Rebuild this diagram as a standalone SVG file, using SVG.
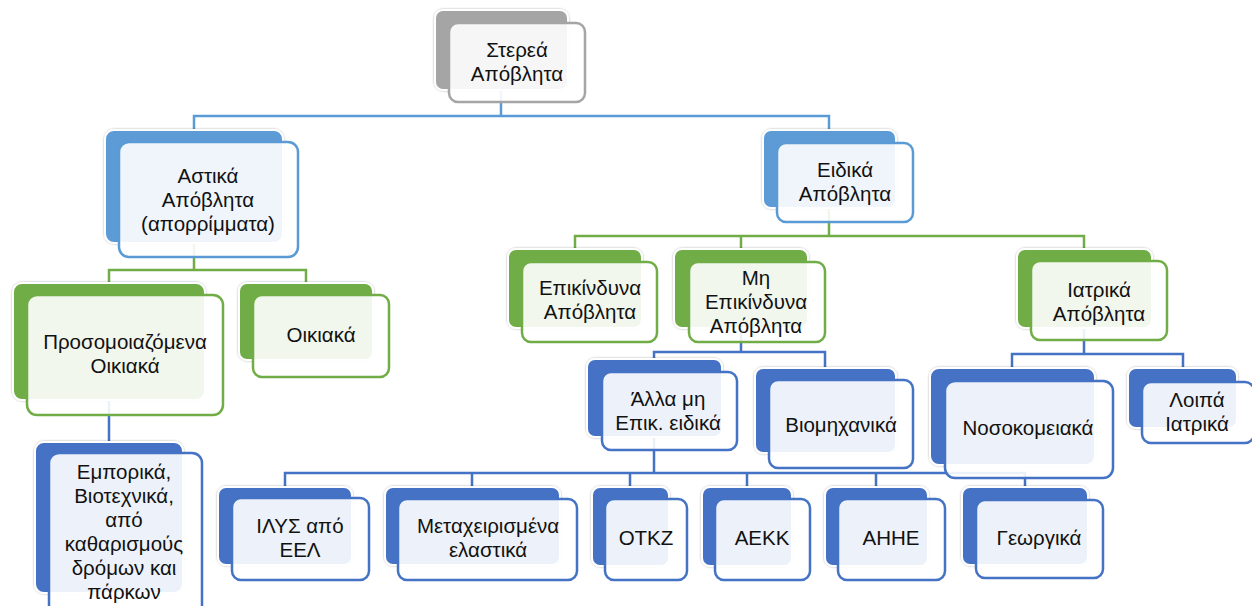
<svg xmlns="http://www.w3.org/2000/svg" width="1252" height="606" viewBox="0 0 1252 606">
<defs>
<filter id="halo" x="-10%" y="-10%" width="120%" height="120%">
<feDropShadow dx="0" dy="0" stdDeviation="0.9" flood-color="#000" flood-opacity="0.3"/>
</filter>
</defs>
<style>
.back{stroke:#ffffff;stroke-width:2;filter:url(#halo)}
.front{fill:#ffffff;fill-opacity:0.9;stroke-width:2.5}
.gray .back{fill:#a5a5a5}.gray .front{stroke:#a5a5a5}
.b1 .back{fill:#5b9bd5}.b1 .front{stroke:#5b9bd5}
.gr .back{fill:#70ad47}.gr .front{stroke:#70ad47}
.b2 .back{fill:#4472c4}.b2 .front{stroke:#4472c4}
text{font-family:"Liberation Sans",Arial,sans-serif;font-size:20.5px;fill:#111111;text-anchor:middle}
.c{fill:none;stroke-width:2.5}
.cb1{stroke:#5b9bd5}.cgr{stroke:#70ad47}.cb2{stroke:#4472c4}
</style>
<rect width="1252" height="606" fill="#ffffff"/>
<g id="connectors">
<path class="c cb1" d="M501,90 V116 M194,130 V116 H829 V130"/>
<path class="c cgr" d="M194,243 V270 M109,283 V270 H306 V283"/>
<path class="c cb2" d="M109,400 V442"/>
<path class="c cgr" d="M829,208 V236 M575,249 V236 H1084 V249 M741,236 V249"/>
<path class="c cb2" d="M741,328 V352 M654,359 V352 H825 V368"/>
<path class="c cb2" d="M1084,328 V354 M1012,368 V354 H1183 V368"/>
<path class="c cb2" d="M654,437 V473 M285,487 V473 H1025 V487 M472,473 V487 M630,473 V487 M747,473 V487 M876,473 V487"/>
</g>
<g id="n-sterea" class="gray">
<rect class="back" x="435" y="10" width="133" height="80" rx="8"/>
<rect class="front" x="449" y="23" width="136" height="79" rx="9"/>
<text><tspan x="517" y="57">Στερεά</tspan><tspan x="517" y="81">Απόβλητα</tspan></text>
</g>
<g id="n-astika" class="b1">
<rect class="back" x="105" y="130" width="178" height="113" rx="9"/>
<rect class="front" x="119" y="142" width="179" height="115" rx="10"/>
<text><tspan x="208" y="183">Αστικά</tspan><tspan x="208" y="207">Απόβλητα</tspan><tspan x="208" y="231">(απορρίμματα)</tspan></text>
</g>
<g id="n-eidika" class="b1">
<rect class="back" x="763" y="130" width="133" height="78" rx="8"/>
<rect class="front" x="777" y="143" width="136" height="79" rx="9"/>
<text><tspan x="845" y="177">Ειδικά</tspan><tspan x="845" y="201">Απόβλητα</tspan></text>
</g>
<g id="n-prosom" class="gr">
<rect class="back" x="13" y="283" width="192" height="117" rx="9"/>
<rect class="front" x="27" y="295" width="196" height="120" rx="10"/>
<text><tspan x="125" y="349">Προσομοιαζόμενα</tspan><tspan x="125" y="373">Οικιακά</tspan></text>
</g>
<g id="n-oikiaka" class="gr">
<rect class="back" x="239" y="283" width="134" height="77" rx="8"/>
<rect class="front" x="253" y="295" width="136" height="82" rx="9"/>
<text><tspan x="321" y="342">Οικιακά</tspan></text>
</g>
<g id="n-epik" class="gr">
<rect class="back" x="508" y="249" width="134" height="79" rx="8"/>
<rect class="front" x="522" y="262" width="135" height="80" rx="9"/>
<text><tspan x="590" y="295">Επικίνδυνα</tspan><tspan x="590" y="319">Απόβλητα</tspan></text>
</g>
<g id="n-miepik" class="gr">
<rect class="back" x="674" y="249" width="134" height="79" rx="8"/>
<rect class="front" x="689" y="262" width="136" height="80" rx="9"/>
<text><tspan x="756" y="285">Μη</tspan><tspan x="756" y="309">Επικίνδυνα</tspan><tspan x="756" y="333">Απόβλητα</tspan></text>
</g>
<g id="n-iatrika" class="gr">
<rect class="back" x="1017" y="249" width="135" height="79" rx="8"/>
<rect class="front" x="1031" y="261" width="136" height="79" rx="9"/>
<text><tspan x="1099" y="297">Ιατρικά</tspan><tspan x="1099" y="321">Απόβλητα</tspan></text>
</g>
<g id="n-emporika" class="b2">
<rect class="back" x="35" y="442" width="148" height="151" rx="9"/>
<rect class="front" x="49" y="453" width="153" height="162" rx="10"/>
<text><tspan x="124" y="479">Εμπορικά,</tspan><tspan x="124" y="503">Βιοτεχνικά,</tspan><tspan x="124" y="527">από</tspan><tspan x="124" y="551">καθαρισμούς</tspan><tspan x="124" y="575">δρόμων και</tspan><tspan x="124" y="599">πάρκων</tspan></text>
</g>
<g id="n-alla" class="b2">
<rect class="back" x="587" y="359" width="135" height="78" rx="8"/>
<rect class="front" x="602" y="372" width="135" height="78" rx="9"/>
<text><tspan x="668" y="406">Άλλα μη</tspan><tspan x="668" y="430">Επικ. ειδικά</tspan></text>
</g>
<g id="n-viom" class="b2">
<rect class="back" x="755" y="368" width="141" height="85" rx="8"/>
<rect class="front" x="769" y="380" width="144" height="88" rx="9"/>
<text><tspan x="841" y="432">Βιομηχανικά</tspan></text>
</g>
<g id="n-nosok" class="b2">
<rect class="back" x="930" y="368" width="165" height="97" rx="9"/>
<rect class="front" x="945" y="381" width="168" height="97" rx="10"/>
<text><tspan x="1028" y="435">Νοσοκομειακά</tspan></text>
</g>
<g id="n-loipa" class="b2">
<rect class="back" x="1128" y="368" width="109" height="60" rx="8"/>
<rect class="front" x="1142" y="382" width="112" height="61" rx="9"/>
<text><tspan x="1197" y="407">Λοιπά</tspan><tspan x="1197" y="431">Ιατρικά</tspan></text>
</g>
<g id="n-ilys" class="b2">
<rect class="back" x="218" y="487" width="134" height="78" rx="8"/>
<rect class="front" x="232" y="498" width="137" height="82" rx="9"/>
<text><tspan x="300" y="533">ΙΛΥΣ από</tspan><tspan x="300" y="557">ΕΕΛ</tspan></text>
</g>
<g id="n-metax" class="b2">
<rect class="back" x="385" y="487" width="175" height="78" rx="8"/>
<rect class="front" x="398" y="499" width="179" height="81" rx="9"/>
<text><tspan x="488" y="533">Μεταχειρισμένα</tspan><tspan x="488" y="557">ελαστικά</tspan></text>
</g>
<g id="n-otkz" class="b2">
<rect class="back" x="592" y="487" width="77" height="79" rx="8"/>
<rect class="front" x="605" y="499" width="82" height="81" rx="9"/>
<text><tspan x="646" y="545">ΟΤΚΖ</tspan></text>
</g>
<g id="n-aekk" class="b2">
<rect class="back" x="702" y="487" width="90" height="79" rx="8"/>
<rect class="front" x="715" y="499" width="95" height="81" rx="9"/>
<text><tspan x="762" y="545">ΑΕΚΚ</tspan></text>
</g>
<g id="n-ahhe" class="b2">
<rect class="back" x="825" y="487" width="103" height="79" rx="8"/>
<rect class="front" x="838" y="499" width="107" height="81" rx="9"/>
<text><tspan x="891" y="545">ΑΗΗΕ</tspan></text>
</g>
<g id="n-georg" class="b2">
<rect class="back" x="962" y="487" width="126" height="78" rx="8"/>
<rect class="front" x="976" y="500" width="127" height="78" rx="9"/>
<text><tspan x="1039" y="545">Γεωργικά</tspan></text>
</g>
</svg>
